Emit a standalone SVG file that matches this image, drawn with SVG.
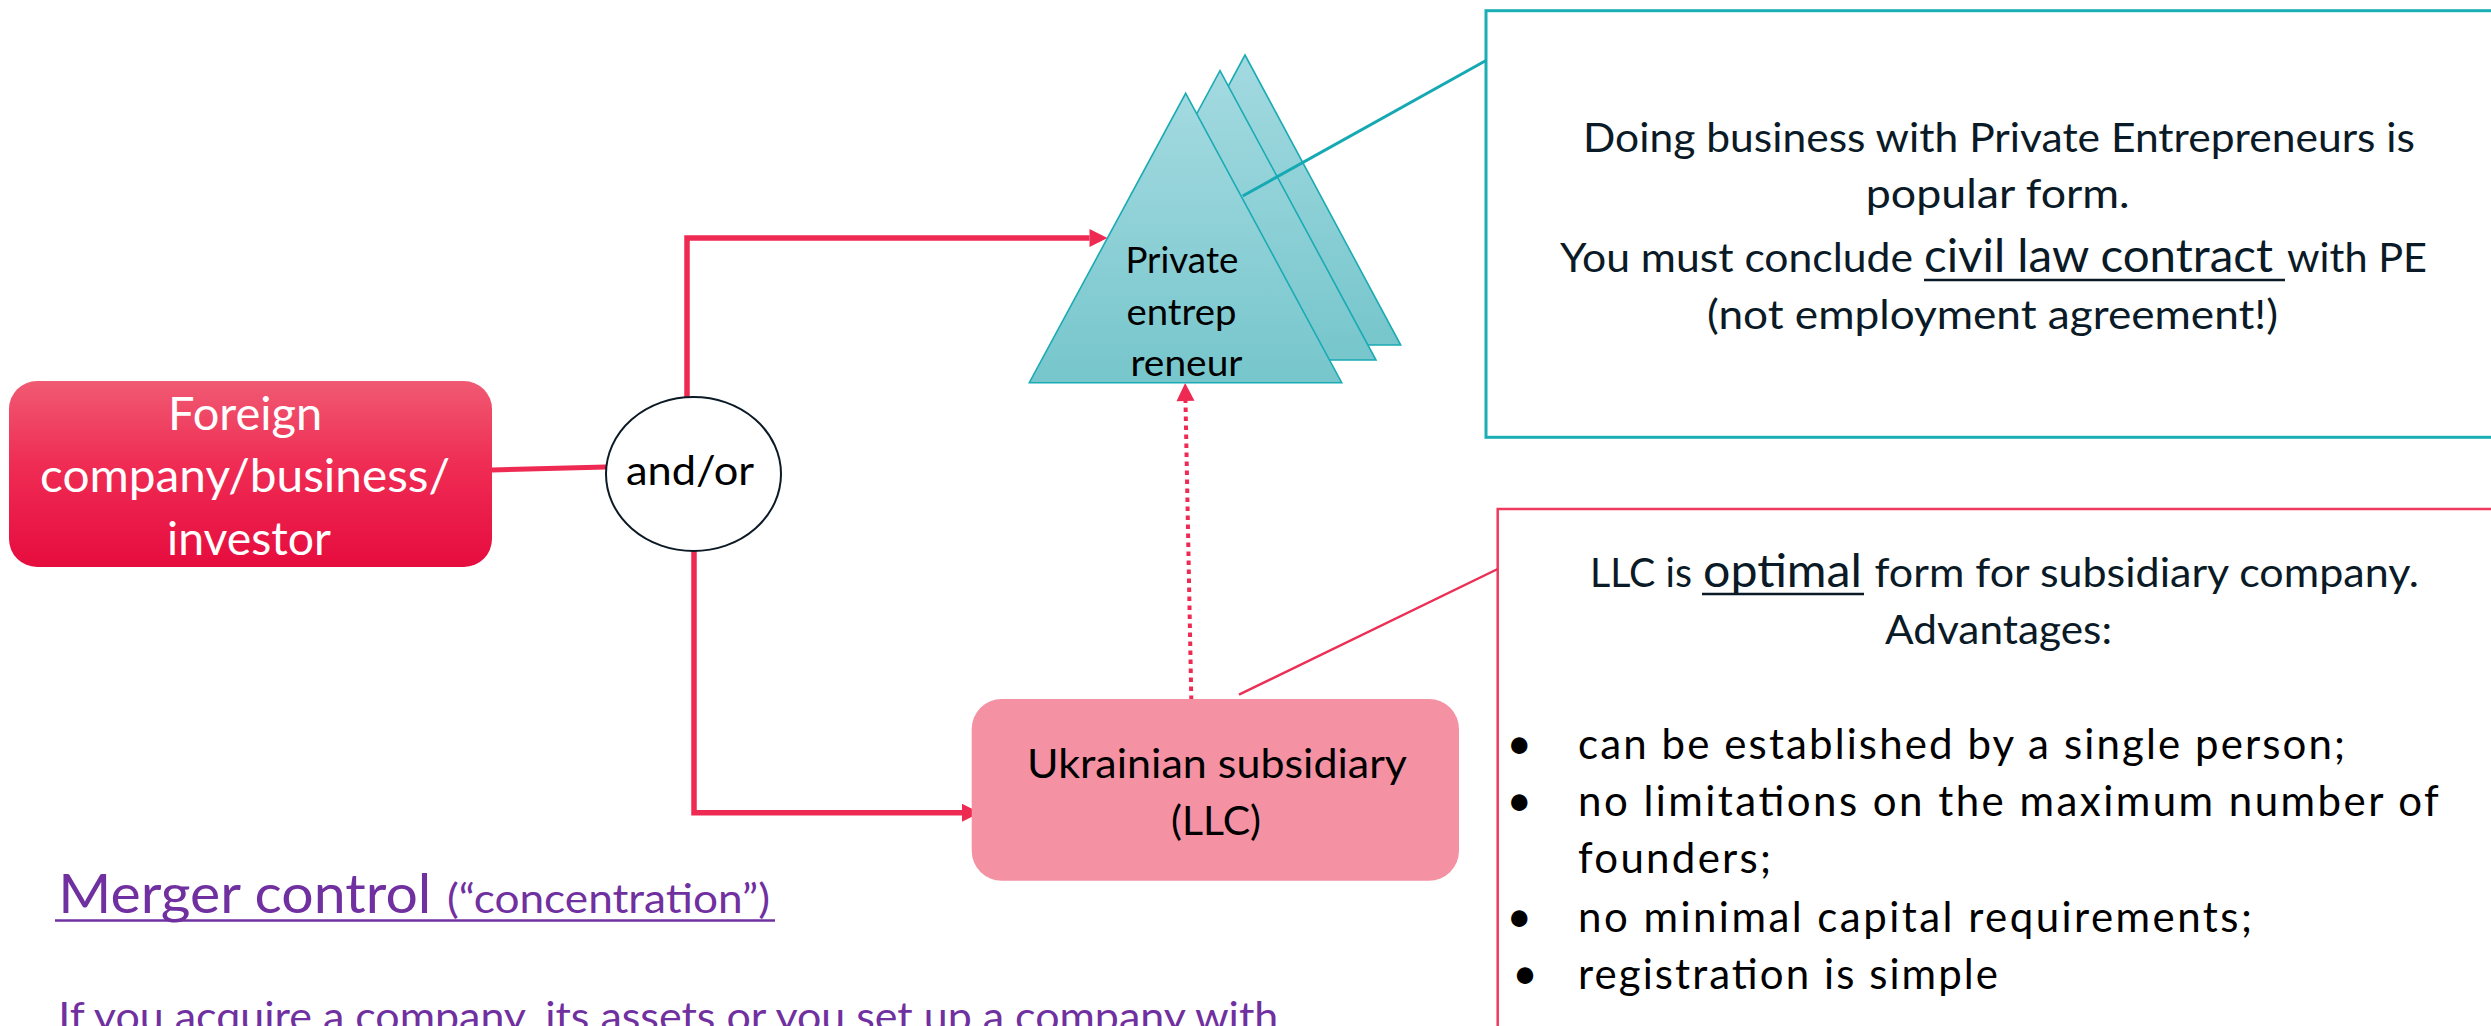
<svg xmlns="http://www.w3.org/2000/svg" width="2491" height="1026" viewBox="0 0 2491 1026">
<style>
.f{font-family:Lato,"Liberation Sans",sans-serif}
.dk{fill:#0a1a26}
.bk{fill:#000}
.pu{fill:#7030a0}
.red{stroke:#ee2a52;fill:none}
.tri{stroke:#1aabb4;stroke-width:1.6;fill:url(#gTri)}
</style>
<defs>
<linearGradient id="gRed" x1="0" y1="0" x2="0" y2="1">
<stop offset="0" stop-color="#f05a72"/>
<stop offset="0.45" stop-color="#ef2c54"/>
<stop offset="1" stop-color="#e60c3e"/>
</linearGradient>
<linearGradient id="gTri" x1="0" y1="0" x2="0" y2="1">
<stop offset="0" stop-color="#a3dae0"/>
<stop offset="1" stop-color="#76c6cc"/>
</linearGradient>
<marker id="ah" markerUnits="userSpaceOnUse" markerWidth="18" markerHeight="18" refX="0" refY="9" orient="auto" overflow="visible">
<path d="M0,0 L18,9 L0,18 z" fill="#ee2a52"/>
</marker>
</defs>
<rect width="2491" height="1026" fill="#fff"/>

<g id="connectors">
<line x1="492" y1="470" x2="606" y2="467" class="red" stroke-width="5"/>
<path d="M687,397 V238 H1089.5" class="red" stroke-width="5.5" marker-end="url(#ah)"/>
<path d="M694,551 V812.7 H962" class="red" stroke-width="5.5" marker-end="url(#ah)"/>
<path d="M1191.5,709 L1185.5,401" class="red" stroke-width="4" stroke-dasharray="4.5 4.5" marker-end="url(#ah)"/>
</g>

<g id="node-foreign">
<rect x="9" y="381" width="483" height="186" rx="28" fill="url(#gRed)"/>
<text class="f" fill="#fff" font-size="46" text-anchor="middle">
<tspan x="251" y="430" textLength="154" lengthAdjust="spacingAndGlyphs">Foreign</tspan>
<tspan x="251" y="492" textLength="410" lengthAdjust="spacingAndGlyphs">company/business/</tspan>
<tspan x="249" y="555" textLength="164" lengthAdjust="spacingAndGlyphs">investor</tspan>
</text>
</g>

<g id="node-andor">
<ellipse cx="693.5" cy="474" rx="87.5" ry="77" fill="#fff" stroke="#0c1a26" stroke-width="2"/>
<text class="f bk" x="690" y="485" font-size="41" text-anchor="middle" textLength="128" lengthAdjust="spacingAndGlyphs">and/or</text>
</g>

<g id="node-pe">
<polygon class="tri" points="1245,55 1400.7,345 1089.3,345"/>
<polygon class="tri" points="1220,70.7 1376,360 1063.8,360"/>
<polygon class="tri" points="1185.7,93.3 1341.7,382.7 1029.3,382.7"/>
<text class="f bk" font-size="36" text-anchor="middle">
<tspan x="1186.5" y="273" textLength="113" lengthAdjust="spacingAndGlyphs">Private</tspan>
<tspan x="1186" y="325" textLength="110" lengthAdjust="spacingAndGlyphs">entrep</tspan>
<tspan x="1186.5" y="376" textLength="112" lengthAdjust="spacingAndGlyphs">reneur</tspan>
</text>
</g>

<g id="node-llc">
<rect x="971.7" y="699" width="487.3" height="181.7" rx="30" fill="#f492a3"/>
<text class="f bk" font-size="41.5">
<tspan x="1027" y="778" textLength="379" lengthAdjust="spacingAndGlyphs">Ukrainian subsidiary</tspan>
<tspan x="1171" y="835" textLength="90" lengthAdjust="spacingAndGlyphs">(LLC)</tspan>
</text>
</g>

<g id="note-pe">
<rect x="1486" y="10.7" width="1030" height="426.6" fill="none" stroke="#1aaeb6" stroke-width="3"/>
<line x1="1242.7" y1="196" x2="1486" y2="60.5" stroke="#16a9b3" stroke-width="3"/>
<text class="f dk" font-size="41.5">
<tspan x="1583" y="151.7" textLength="832" lengthAdjust="spacingAndGlyphs">Doing business with Private Entrepreneurs is</tspan>
<tspan x="1865.7" y="208" textLength="264" lengthAdjust="spacingAndGlyphs">popular form.</tspan>
<tspan x="1560" y="271.5" textLength="353" lengthAdjust="spacingAndGlyphs">You must conclude</tspan>
<tspan x="1924" y="271.5" font-size="46" textLength="349" lengthAdjust="spacingAndGlyphs">civil law contract</tspan>
<tspan x="2287" y="271.5" textLength="140" lengthAdjust="spacingAndGlyphs">with PE</tspan>
<tspan x="1707" y="329" textLength="571" lengthAdjust="spacingAndGlyphs">(not employment agreement!)</tspan>
</text>
<line x1="1924" y1="280" x2="2285" y2="280" stroke="#0a1a26" stroke-width="2.5"/>
</g>

<g id="note-llc">
<rect x="1497.7" y="509" width="1030" height="560" fill="none" stroke="#ee3a5d" stroke-width="2.5"/>
<line x1="1239" y1="694.7" x2="1497.7" y2="569" stroke="#ec2f55" stroke-width="2.5"/>
<text class="f dk" font-size="41.5">
<tspan x="1590" y="586.7" textLength="102" lengthAdjust="spacingAndGlyphs">LLC is</tspan>
<tspan x="1703" y="586.7" font-size="46" textLength="159" lengthAdjust="spacingAndGlyphs">optimal</tspan>
<tspan x="1874.5" y="586.7" textLength="544.5" lengthAdjust="spacingAndGlyphs">form for subsidiary company.</tspan>
<tspan x="1885" y="644" textLength="227" lengthAdjust="spacingAndGlyphs">Advantages:</tspan>
</text>
<line x1="1702" y1="594" x2="1864" y2="594" stroke="#0a1a26" stroke-width="2.7"/>
<text class="f bk" font-size="44" text-anchor="middle">
<tspan x="1525" y="759.3">•</tspan>
<tspan x="1525" y="816">•</tspan>
<tspan x="1525" y="931.7">•</tspan>
<tspan x="1525" y="989">•</tspan>
</text>
<text class="f bk" font-size="42">
<tspan x="1578" y="759.3" textLength="767" lengthAdjust="spacing">can be established by a single person;</tspan>
<tspan x="1578" y="816" textLength="860" lengthAdjust="spacing">no limitations on the maximum number of</tspan>
<tspan x="1578" y="873" textLength="193" lengthAdjust="spacing">founders;</tspan>
<tspan x="1578" y="931.7" textLength="674" lengthAdjust="spacing">no minimal capital requirements;</tspan>
<tspan x="1578" y="989" textLength="420" lengthAdjust="spacing">registration is simple</tspan>
</text>
</g>

<g id="merger">
<text class="f pu">
<tspan x="58.3" y="913.3" font-size="54" textLength="373" lengthAdjust="spacingAndGlyphs">Merger control</tspan>
<tspan x="447" y="913.3" font-size="40.5" textLength="323" lengthAdjust="spacingAndGlyphs">(“concentration”)</tspan>
</text>
<line x1="55" y1="920.5" x2="775" y2="920.5" stroke="#7030a0" stroke-width="2.7"/>
<text class="f pu" x="58.3" y="1031" font-size="41.5" textLength="1220" lengthAdjust="spacingAndGlyphs">If you acquire a company, its assets or you set up a company with</text>
</g>
</svg>
